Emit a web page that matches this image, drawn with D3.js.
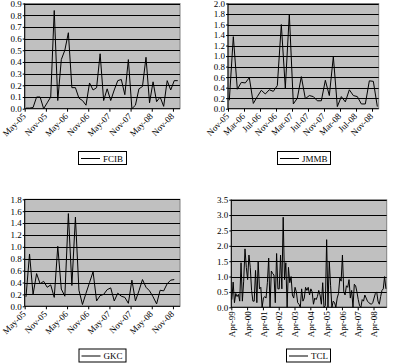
<!DOCTYPE html>
<html>
<head>
<meta charset="utf-8">
<script src="https://cdn.jsdelivr.net/npm/d3@7"></script>
<style>
  body { margin: 0; background: #fff; }
  svg { display: block; font-family: "Liberation Serif", "Times New Roman", serif; }
  .axis text { font-family: "Liberation Serif", "Times New Roman", serif; font-size: 9px; fill: #000; }
  .axis path, .axis line { stroke: #000; }
</style>
</head>
<body>
<svg id="chart" width="393" height="364"></svg>
<script>
// monthly series
const fcibValues = [0.005, 0.005, 0.01, 0.1, 0.1, 0.0, 0.05, 0.1, 0.84, 0.07, 0.42, 0.5, 0.65, 0.18, 0.18,
  0.09, 0.07, 0.03, 0.22, 0.16, 0.18, 0.47, 0.07, 0.17, 0.07, 0.16, 0.24, 0.25, 0.12, 0.42, 0.0, 0.03,
  0.17, 0.19, 0.44, 0.05, 0.23, 0.06, 0.1, 0.02, 0.24, 0.16, 0.24, 0.24];
const fcibTicks = ["May-05", "Nov-05", "May-06", "Nov-06", "May-07", "Nov-07", "May-08", "Nov-08"];

const jmmbValues = [0.16, 1.37, 0.37, 0.5, 0.49, 0.59, 0.1, 0.23, 0.35, 0.28, 0.36, 0.33, 0.44, 1.6, 0.39,
  1.8, 0.09, 0.2, 0.61, 0.19, 0.25, 0.23, 0.15, 0.15, 0.54, 0.25, 0.99, 0.04, 0.23, 0.13, 0.36, 0.25,
  0.23, 0.09, 0.09, 0.53, 0.52, 0.04];
const jmmbTicks = ["Nov-05", "Mar-06", "Jul-06", "Nov-06", "Mar-07", "Jul-07", "Nov-07", "Mar-08", "Jul-08", "Nov-08"];

const gkcValues = [0.16, 0.88, 0.2, 0.55, 0.38, 0.42, 0.32, 0.36, 0.15, 1.01, 0.29, 0.17, 1.56, 0.35, 1.5,
  0.27, 0.03, 0.22, 0.4, 0.58, 0.09, 0.18, 0.2, 0.28, 0.31, 0.09, 0.22, 0.17, 0.15, 0.05, 0.44, 0.09,
  0.26, 0.45, 0.32, 0.26, 0.16, 0.04, 0.27, 0.26, 0.38, 0.44, 0.45];
const gkcTicks = ["May-05", "Nov-05", "May-06", "Nov-06", "May-07", "Nov-07", "May-08", "Nov-08"];

const tclValues = [0.25, 0.82, 0.15, 0.45, 0.35, 0.42, 0.2, 1.45, 0.2, 0.85, 1.9, 1.3, 0.9, 1.7, 1.3, 0.55,
  0.2, 0.2, 1.2, 0.15, 1.5, 0.6, 0.65, 0.0, 0.3, 0.35, 0.3, 0.8, 1.6, 0.0, 1.18, 1.1, 1.05, 0.15, 1.75,
  0.6, 0.6, 1.7, 0.6, 2.93, 0.9, 1.45, 0.0, 1.3, 0.8, 1.0, 0.4, 0.3, 0.65, 0.5, 0.15, 0.1, 0.0, 0.6,
  0.2, 0.3, 0.65, 0.55, 0.65, 0.4, 0.6, 0.5, 0.1, 0.3, 0.25, 0.35, 0.55, 0.4, 0.1, 0.8, 0.0, 0.05, 2.2,
  0.0, 1.5, 0.7, 0.0, 0.2, 0.15, 0.0, 0.3, 0.45, 0.95, 0.85, 1.7, 0.5, 0.4, 0.7, 0.65, 0.9, 0.3, 0.55,
  0.0, 0.75, 0.7, 0.5, 0.25, 0.05, 0.0, 0.25, 0.2, 0.4, 0.3, 0.2, 0.15, 0.12, 0.1, 0.15, 0.3, 0.45,
  0.5, 0.2, 0.1, 0.35, 0.55, 0.6, 1.0, 0.6];
const tclTicks = ["Apr-99", "Apr-00", "Apr-01", "Apr-02", "Apr-03", "Apr-04", "Apr-05", "Apr-06", "Apr-07", "Apr-08"];

const svg = d3.select("#chart");

function drawPanel(opt) {
  const g = svg.append("g");

  // month index -> pixel
  const x = d3.scaleLinear()
    .domain([0, opt.months])
    .range([opt.left, opt.right]);
  const y = d3.scaleLinear()
    .domain([0, opt.yMax])
    .range([opt.bottom, opt.top]);

  const yTicks = d3.range(0, opt.yMax + opt.yStep / 2, opt.yStep);

  // plot area
  g.append("rect")
    .attr("x", opt.left)
    .attr("y", opt.top)
    .attr("width", opt.right - opt.left)
    .attr("height", opt.bottom - opt.top)
    .attr("fill", "#c0c0c0")
    .attr("stroke", "#808080");

  // gridlines
  g.selectAll(".grid")
    .data(yTicks.slice(1))
    .enter()
    .append("line")
    .attr("x1", opt.left)
    .attr("x2", opt.right)
    .attr("y1", d => Math.round(y(d)) + 0.5)
    .attr("y2", d => Math.round(y(d)) + 0.5)
    .attr("stroke", "#000");

  const line = d3.line()
    .x((d, i) => x(i + opt.offset))
    .y(d => y(d));

  g.append("path")
    .datum(opt.values)
    .attr("d", line)
    .attr("fill", "none")
    .attr("stroke", "#000")
    .attr("stroke-width", 1);

  // axes
  g.append("g")
    .attr("class", "axis")
    .attr("transform", "translate(" + opt.left + ",0)")
    .call(d3.axisLeft(y).tickValues(yTicks).tickSize(2).tickPadding(1).tickFormat(d3.format(".1f")))
    .call(a => a.attr("font-family", null).attr("font-size", null))
    .call(a => a.select(".domain").attr("d", "M0," + opt.top + "V" + opt.bottom));

  const xAxis = g.append("g")
    .attr("class", "axis")
    .attr("transform", "translate(0," + opt.bottom + ")")
    .call(d3.axisBottom(x)
      .tickValues(opt.ticks.map((t, i) => i * opt.tickEvery))
      .tickSize(3)
      .tickFormat((d, i) => opt.ticks[i]))
    .call(a => a.attr("font-family", null).attr("font-size", null));
  xAxis.select(".domain").attr("d", "M" + opt.left + ",0H" + opt.right);

  xAxis.selectAll("text")
    .attr("x", 0)
    .attr("y", 0)
    .attr("dy", "0.35em")
    .attr("text-anchor", "end")
    .attr("transform", opt.rotate === -90 ? "translate(0,4) rotate(-90)" : "translate(-1,6) rotate(-45)");

  // legend
  const lg = g.append("g")
    .attr("transform", "translate(" + opt.legend[0] + "," + opt.legend[1] + ")");
  lg.append("rect")
    .attr("x", 0.5)
    .attr("y", 0.5)
    .attr("width", opt.legend[2])
    .attr("height", 13)
    .attr("fill", "#fff")
    .attr("stroke", "#000");
  lg.append("line")
    .attr("x1", 3)
    .attr("x2", 22)
    .attr("y1", 7.5)
    .attr("y2", 7.5)
    .attr("stroke", "#000");
  lg.append("text")
    .attr("x", 25)
    .attr("y", 10.5)
    .attr("font-size", "9px")
    .text(opt.name);
}

drawPanel({ name: "FCIB", values: fcibValues, ticks: fcibTicks, tickEvery: 6, months: 44, offset: 0.37,
  yMax: 0.9, yStep: 0.1, left: 24.7, right: 180, top: 3.5, bottom: 108.7, legend: [78, 151, 48] });
drawPanel({ name: "JMMB", values: jmmbValues, ticks: jmmbTicks, tickEvery: 4, months: 37.67, offset: 0.33,
  yMax: 2.0, yStep: 0.2, left: 228, right: 378.7, top: 3.5, bottom: 108.7, legend: [277, 151, 53] });
drawPanel({ name: "GKC", values: gkcValues, ticks: gkcTicks, tickEvery: 6, months: 44, offset: 0.37,
  yMax: 1.8, yStep: 0.2, left: 24.7, right: 180, top: 199.3, bottom: 306.3, legend: [78.5, 348.5, 47] });
drawPanel({ name: "TCL", values: tclValues, ticks: tclTicks, tickEvery: 12, months: 118, offset: 0.4,
  yMax: 3.5, yStep: 0.5, left: 231.3, right: 386.7, top: 199.7, bottom: 307.3, legend: [286, 348.5, 44], rotate: -90 });
</script>
</body>
</html>
